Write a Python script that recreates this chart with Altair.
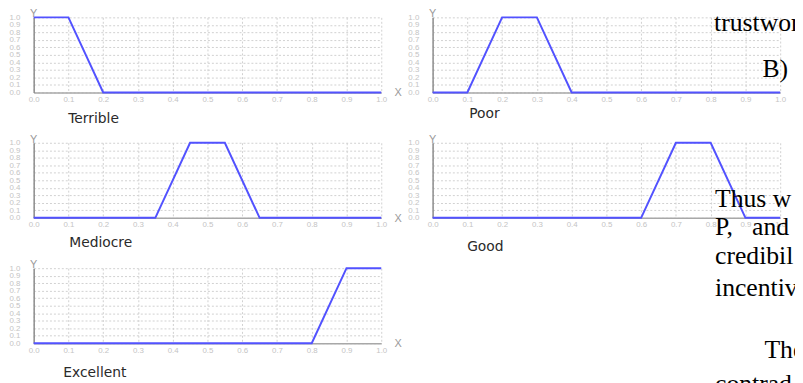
import altair as alt
import pandas as pd

# ---- data -------------------------------------------------------------
terms = ["Terrible", "Poor", "Mediocre", "Good", "Excellent"]

x_terrible = [0.0, 0.1, 0.2, 1.0]
y_terrible = [1.0, 1.0, 0.0, 0.0]

x_poor = [0.0, 0.1, 0.2, 0.3, 0.4, 1.0]
y_poor = [0.0, 0.0, 1.0, 1.0, 0.0, 0.0]

x_mediocre = [0.0, 0.35, 0.45, 0.55, 0.65, 1.0]
y_mediocre = [0.0, 0.0, 1.0, 1.0, 0.0, 0.0]

x_good = [0.0, 0.6, 0.7, 0.8, 0.9, 1.0]
y_good = [0.0, 0.0, 1.0, 1.0, 0.0, 0.0]

x_excellent = [0.0, 0.8, 0.9, 1.0]
y_excellent = [0.0, 0.0, 1.0, 1.0]

tick_values = [0.0, 0.1, 0.2, 0.3, 0.4, 0.5, 0.6, 0.7, 0.8, 0.9, 1.0]

page_text_top = ["trustwor", "B)"]
page_text_mid = ["Thus w", "P,\u00a0\u00a0\u00a0and", "credibil", "incentiv", "The", "contrad"]

# ---- style ------------------------------------------------------------
W, H = 352, 76
BLUE = "#5252ff"
GRID = "#d0d0d0"
LABEL = "#c4c4c4"

xaxis = alt.Axis(values=tick_values, format=".1f", title=None, grid=True,
                 gridColor=GRID, gridDash=[2, 2], gridWidth=1,
                 domainColor="#a8a8a8", domainWidth=1.5, ticks=False,
                 labelColor=LABEL, labelFont="Liberation Sans", labelFontSize=8,
                 labelPadding=3, labelOverlap=False, labelFlush=False)
yaxis = alt.Axis(values=tick_values, format=".1f", title=None, grid=True,
                 gridColor=GRID, gridDash=[2, 2], gridWidth=1,
                 domainColor="#8c8c8c", domainWidth=1.5, ticks=False,
                 labelColor=LABEL, labelFont="Liberation Sans", labelFontSize=8,
                 labelPadding=14, labelOverlap=False, labelFlush=False)


def page_text(s, px, py):
    return alt.Chart(pd.DataFrame({"t": [s]})).mark_text(
        text=s, align="left", baseline="alphabetic", font="Liberation Serif",
        fontSize=26, color="#000000").encode(x=alt.value(px), y=alt.value(py))


def panel(name, xs, ys, cap_dx, cap_dy, show_x=True, extra=()):
    df = pd.DataFrame({"x": xs, "y": ys, "i": list(range(len(xs)))})
    one = pd.DataFrame({"t": [name]})
    line = alt.Chart(df).mark_line(color=BLUE, strokeWidth=2).encode(
        x=alt.X("x:Q", scale=alt.Scale(domain=[0, 1], nice=False, zero=False), axis=xaxis),
        y=alt.Y("y:Q", scale=alt.Scale(domain=[0, 1], nice=False), axis=yaxis),
        order="i:Q",
    )
    ylab = alt.Chart(one).mark_text(text="Y", align="center", baseline="alphabetic",
                                    font="Liberation Sans", fontSize=11, color="#9a9a9a").encode(
        x=alt.value(0), y=alt.value(0))
    cap = alt.Chart(one).mark_text(align="left", baseline="alphabetic", font="DejaVu Sans",
                                   fontSize=14, color="#2a2a2a").encode(
        text="t:N", x=alt.value(cap_dx), y=alt.value(H + cap_dy))
    layers = [line, ylab, cap]
    if show_x:
        layers.append(alt.Chart(one).mark_text(text="X", align="center", baseline="middle",
                                               font="Liberation Sans", fontSize=11,
                                               color="#9a9a9a").encode(
            x=alt.value(W + 17), y=alt.value(H + 1)))
    layers += list(extra)
    return alt.layer(*layers).properties(width=W, height=H)


p1 = panel(terms[0], x_terrible, y_terrible, 35, 31)
p2 = panel(terms[1], x_poor, y_poor, 37, 26, show_x=False,
           extra=[page_text(page_text_top[0], 285, 14),
                  page_text(page_text_top[1], 334, 60)])
p3 = panel(terms[2], x_mediocre, y_mediocre, 36, 30)
p4 = panel(terms[3], x_good, y_good, 35, 34, show_x=False,
           extra=[page_text(page_text_mid[0], 286, 65),
                  page_text(page_text_mid[1], 286, 93),
                  page_text(page_text_mid[2], 286, 123),
                  page_text(page_text_mid[3], 286, 155),
                  page_text(page_text_mid[4], 336, 218),
                  page_text(page_text_mid[5], 286, 252)])
p5 = panel(terms[4], x_excellent, y_excellent, 30, 34)

chart = alt.concat(p1, p2, p3, p4, p5, columns=2,
                   spacing={"row": 51, "column": 52}, bounds="flush").properties(
    padding={"left": 0, "top": -2, "right": -10, "bottom": 0},
    background="white",
).configure_view(stroke=None)

chart.save("out.html", embed_options={"renderer": "svg", "actions": False})
